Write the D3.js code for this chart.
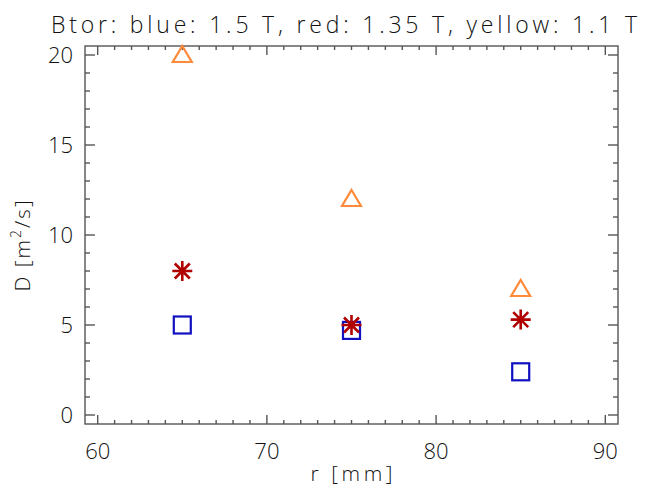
<!DOCTYPE html>
<html>
<head>
<meta charset="utf-8">
<script src="https://cdn.jsdelivr.net/npm/d3@7"></script>
<style>
  body { margin: 0; background: #fff; }
  text { font-family: "Open Sans", "Liberation Sans", sans-serif; font-weight: 300; fill: #111; }
</style>
</head>
<body>
<div id="chart"></div>
<script>
// Data
var radius      = [ 65, 75, 85 ];
var d_blue      = [ 5.0, 4.7, 2.4 ];   // 1.5 T, squares
var d_red       = [ 8.0, 5.0, 5.3 ];   // 1.35 T, asterisks
var d_yellow    = [ 20.0, 12.0, 7.0 ]; // 1.1 T, triangles
var x_ticks     = [ 60, 70, 80, 90 ];
var y_ticks     = [ 0, 5, 10, 15, 20 ];

var chart_width  = 651;
var chart_height = 486;
var p_left = 85, p_right = 618, p_top = 46, p_bottom = 424;
var axis_color = "#555";

var x = d3.scaleLinear().domain([ 59.25, 90.75 ]).range([ p_left, p_right ]);
var y = d3.scaleLinear().domain([ -0.5, 20.5 ]).range([ p_bottom, p_top ]);

var svg = d3.select("#chart")
    .append("svg")
    .attr("width", chart_width)
    .attr("height", chart_height);

// Title
svg.append("text")
    .attr("x", 51)
    .attr("y", 33)
    .attr("font-size", 23)
    .attr("textLength", 586)
    .attr("lengthAdjust", "spacing")
    .text("Btor: blue: 1.5 T, red: 1.35 T, yellow: 1.1 T");

// Axes, ticks on all four sides pointing inward
var x_minor = d3.range(60, 91, 1);
var y_minor = d3.range(0, 21, 1);

function tickLines(g, vals, major, horiz) {
    vals.forEach(function(v) {
        var isMajor = major.indexOf(v) >= 0;
        if (horiz) {
            var len = isMajor ? 9 : 4;
            g.append("line").attr("x1", x(v)).attr("x2", x(v))
                .attr("y1", p_bottom).attr("y2", p_bottom - len);
            g.append("line").attr("x1", x(v)).attr("x2", x(v))
                .attr("y1", p_top).attr("y2", p_top + len);
        } else {
            var l2 = isMajor ? 10 : 5;
            g.append("line").attr("y1", y(v)).attr("y2", y(v))
                .attr("x1", p_left).attr("x2", p_left + l2);
            g.append("line").attr("y1", y(v)).attr("y2", y(v))
                .attr("x1", p_right).attr("x2", p_right - l2);
        }
    });
}

var axes = svg.append("g")
    .attr("stroke", axis_color)
    .attr("stroke-width", 1.4)
    .attr("fill", "none");

axes.append("rect")
    .attr("x", p_left).attr("y", p_top)
    .attr("width", p_right - p_left).attr("height", p_bottom - p_top);

tickLines(axes, x_minor, x_ticks, true);
tickLines(axes, y_minor, y_ticks, false);

// Tick labels
svg.selectAll("text.xt")
    .data(x_ticks)
    .enter().append("text")
    .attr("class", "xt")
    .attr("x", function(d) { return x(d); })
    .attr("y", 459)
    .attr("text-anchor", "middle")
    .attr("font-size", 22)
    .text(function(d) { return d; });

svg.selectAll("text.yt")
    .data(y_ticks)
    .enter().append("text")
    .attr("class", "yt")
    .attr("x", 73)
    .attr("y", function(d) { return y(d) + 8; })
    .attr("text-anchor", "end")
    .attr("font-size", 22)
    .text(function(d) { return d; });

// Axis titles
svg.append("text")
    .attr("x", (p_left + p_right) / 2)
    .attr("y", 481)
    .attr("text-anchor", "middle")
    .attr("font-size", 21)
    .attr("textLength", 82)
    .text("r [mm]");

var ylab = svg.append("text")
    .attr("transform", "translate(30," + ((p_top + p_bottom) / 2 + 10) + ") rotate(-90)")
    .attr("text-anchor", "middle")
    .attr("font-size", 21)
    .attr("letter-spacing", 2);
ylab.append("tspan").text("D [m");
ylab.append("tspan").attr("font-size", 14).attr("dy", -9).text("2");
ylab.append("tspan").attr("dy", 9).text("/s]");

// Markers
var marks = svg.append("g").attr("fill", "none").attr("stroke-width", 2.2);

marks.selectAll("rect.blue")
    .data(radius.map(function(r, i) { return [ r, d_blue[i] ]; }))
    .enter().append("rect")
    .attr("x", function(d) { return x(d[0]) - 8.5; })
    .attr("y", function(d) { return y(d[1]) - 8.5; })
    .attr("width", 17).attr("height", 17)
    .attr("stroke", "#1010c0");

var star = "M-10,0H10M0,-10V10M-7.5,-7.5L7.5,7.5M-7.5,7.5L7.5,-7.5";
marks.selectAll("path.red")
    .data(radius.map(function(r, i) { return [ r, d_red[i] ]; }))
    .enter().append("path")
    .attr("transform", function(d) { return "translate(" + x(d[0]) + "," + y(d[1]) + ")"; })
    .attr("d", star)
    .attr("stroke", "#b00000")
    .attr("stroke-width", 2.6);

var tri = "M0,-9L9.5,7H-9.5Z";
marks.selectAll("path.yellow")
    .data(radius.map(function(r, i) { return [ r, d_yellow[i] ]; }))
    .enter().append("path")
    .attr("transform", function(d) { return "translate(" + x(d[0]) + "," + y(d[1]) + ")"; })
    .attr("d", tri)
    .attr("stroke", "#ff8a3a");
</script>
</body>
</html>
